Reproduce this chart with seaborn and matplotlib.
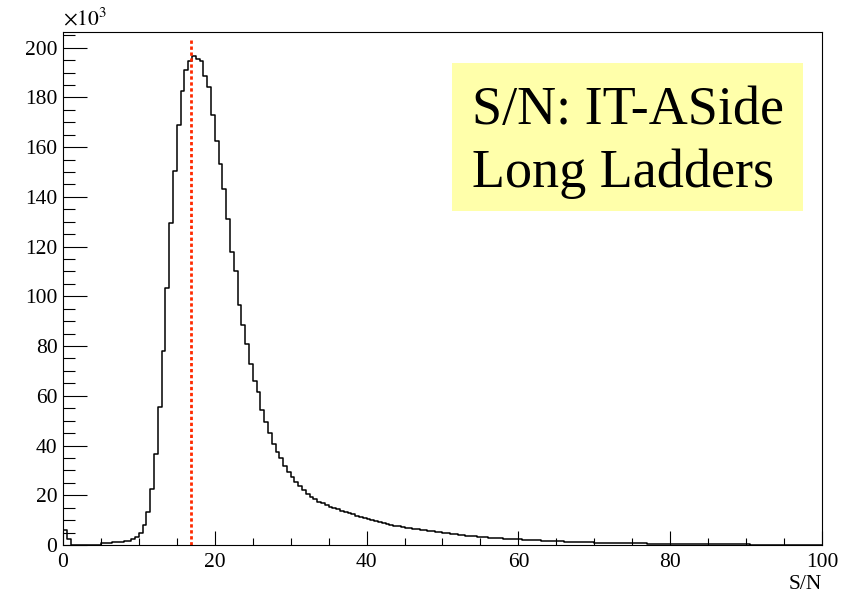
import numpy as np
import pandas as pd
import matplotlib
matplotlib.use("Agg")
import matplotlib.pyplot as plt
from matplotlib.patches import Rectangle
from matplotlib.ticker import MultipleLocator
import seaborn as sns

sns.set_style("white")
plt.rcParams['font.family'] = ['Liberation Serif', 'DejaVu Serif']
plt.rcParams['mathtext.fontset'] = 'stix'
plt.rcParams['text.color'] = 'black'
plt.rcParams['axes.labelcolor'] = 'black'

# histogram: S/N from 0 to 100, bin width 0.5, counts in thousands
bin_width = 0.5
sn_min, sn_max = 0.0, 100.0
counts_k = [
    6.0, 2.5, 0, 0, 0, 0, 0, 0, 0, 0,                                   # 0 - 5
    1.0, 1.0, 1.0, 1.1, 1.1, 1.2, 1.6, 1.8, 2.3, 3.1,                   # 5 - 10
    4.8, 7.9, 13.4, 22.4, 36.5, 55.3, 78.0, 103.3, 129.3, 150.5,        # 10 - 15
    169.0, 182.7, 191.0, 194.5, 196.8, 195.3, 194.6, 188.5, 184.0, 172.8,  # 15 - 20
    162.5, 153.1, 143.1, 131.0, 118.0, 110.0, 96.6, 88.4, 80.7, 72.7,   # 20 - 25
    66.0, 61.5, 54.3, 49.6, 44.9, 40.6, 37.5, 34.9, 31.8, 29.2,         # 25 - 30
    27.5, 25.5, 23.7, 22.1, 20.5, 19.4, 18.5, 17.4, 16.8, 16.1,         # 30 - 35
    15.4, 15.0, 14.3, 13.8, 13.3, 12.8, 12.3, 11.8, 11.3, 10.9,         # 35 - 40
    10.5, 10.1, 9.6, 9.2, 8.9, 8.5, 8.2, 7.8, 7.6, 7.3,                 # 40 - 45
    7.0, 6.8, 6.6, 6.4, 6.2, 6.0, 5.7, 5.5, 5.3, 5.1,                   # 45 - 50
    4.9, 4.7, 4.5, 4.3, 4.1, 4.0, 3.8, 3.6, 3.5, 3.3,                   # 50 - 55
    3.2, 3.1, 3.0, 2.9, 2.8, 2.7, 2.6, 2.5, 2.4, 2.4,                   # 55 - 60
    2.3, 2.2, 2.1, 2.0, 1.9, 1.9, 1.8, 1.8, 1.7, 1.6,                   # 60 - 65
    1.6, 1.5, 1.4, 1.4, 1.3, 1.3, 1.2, 1.2, 1.1, 1.1,                   # 65 - 70
    1.0, 1.0, 0.9, 0.9, 0.8, 0.8, 0.8, 0.7, 0.7, 0.7,                   # 70 - 75
    0.7, 0.6, 0.6, 0.6, 0.5, 0.5, 0.5, 0.45, 0.45, 0.4,                 # 75 - 80
    0.4, 0.4, 0.4, 0.35, 0.35, 0.35, 0.3, 0.3, 0.3, 0.3,                # 80 - 85
    0.3, 0.25, 0.25, 0.25, 0.25, 0.2, 0.2, 0.2, 0.2, 0.2,               # 85 - 90
    0.2, 0.15, 0.15, 0, 0, 0, 0, 0, 0, 0,                               # 90 - 95
    0, 0, 0, 0, 0, 0, 0, 0, 0, 0,                                       # 95 - 100
]
marker_sn = 16.9  # red dotted line
label_lines = ["S/N: IT-ASide", "Long Ladders"]

edges = np.arange(sn_min, sn_max + bin_width / 2, bin_width)
df = pd.DataFrame({"sn": edges[:-1] + bin_width / 2, "counts": counts_k})

fig = plt.figure(figsize=(8.43, 6.01), dpi=100)
ax = fig.add_axes([0.0747, 0.0932, 0.9004, 0.8536])

sns.histplot(data=df, x="sn", weights="counts", bins=list(edges), element="step",
             fill=False, color="black", linewidth=1.1, ax=ax)

ymax = 206.3
ax.set_xlim(sn_min, sn_max)
ax.set_ylim(0, ymax)
ax.axvline(marker_sn, ymin=0, ymax=204 / ymax, color="#ff2a00", lw=2.0,
           linestyle=(0, (1.2, 0.95)))

ax.xaxis.set_major_locator(MultipleLocator(20))
ax.xaxis.set_minor_locator(MultipleLocator(5))
ax.yaxis.set_major_locator(MultipleLocator(20))
ax.yaxis.set_minor_locator(MultipleLocator(5))
ax.tick_params(axis="both", which="both", direction="in", bottom=True, left=True,
               top=False, right=False, labelsize=15.5, colors="black", width=0.8)
ax.tick_params(axis="x", which="major", length=10, pad=6)
ax.tick_params(axis="x", which="minor", length=5)
ax.tick_params(axis="y", which="major", length=17, pad=4)
ax.tick_params(axis="y", which="minor", length=8.5)
for sp in ax.spines.values():
    sp.set_color("black")
    sp.set_linewidth(0.8)

ax.set_ylabel("")
ax.set_xlabel("S/N", loc="right", fontsize=15.5, labelpad=2)
ax.text(0.0, 1.004, r"$\times10^{3}$", transform=ax.transAxes, ha="left", va="bottom",
        fontsize=15.5)

# yellow label box
ax.add_patch(Rectangle((0.513, 0.6517), 0.462, 0.2873, transform=ax.transAxes,
                       facecolor="#ffffaa", edgecolor="none", zorder=3))
ax.text(0.539, 0.8207, label_lines[0], transform=ax.transAxes, ha="left",
        va="baseline", fontsize=39, zorder=4)
ax.text(0.539, 0.6984, label_lines[1], transform=ax.transAxes, ha="left",
        va="baseline", fontsize=39, zorder=4)

plt.savefig("out.png", dpi=100)
